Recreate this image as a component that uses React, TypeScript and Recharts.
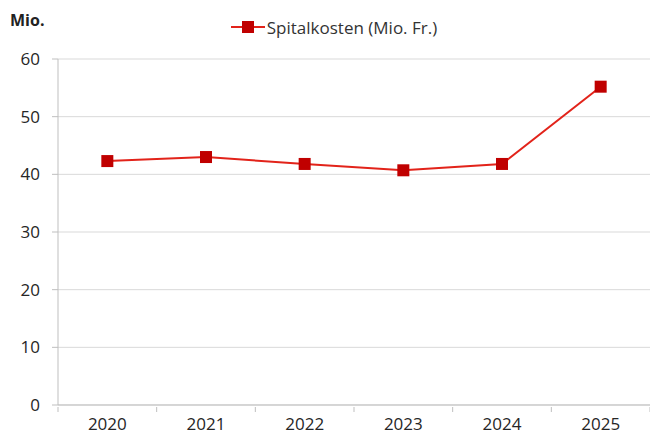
import React from 'react';
import { LineChart, Line, XAxis, YAxis, CartesianGrid, Legend } from 'recharts';

const years = ['2020', '2021', '2022', '2023', '2024', '2025'];
const spitalkosten = [42.3, 43.0, 41.8, 40.7, 41.8, 55.2];
const yTicks = [0, 10, 20, 30, 40, 50, 60];

const data = years.map((y, i) => ({ year: y, value: spitalkosten[i] }));

const FONT = '"Open Sans", "Noto Sans", sans-serif';
const LINE_COLOR = '#e2231a';
const MARKER_COLOR = '#c00000';
const AXIS_COLOR = '#bfbfbf';
const TEXT_COLOR = '#262626';

const Square = (props: any) => {
  const { cx, cy } = props;
  if (cx == null || cy == null) return null;
  return <rect x={cx - 6} y={cy - 6} width={12} height={12} fill={MARKER_COLOR} />;
};

const XTick = (props: any) => {
  const { x, y, payload, index, width, visibleTicksCount } = props;
  const bw = width / (visibleTicksCount || years.length);
  const top = y;
  return (
    <g>
      <line x1={x - bw / 2} x2={x - bw / 2} y1={top} y2={top + 5} stroke={AXIS_COLOR} />
      {index === years.length - 1 && (
        <line x1={x + bw / 2} x2={x + bw / 2} y1={top} y2={top + 5} stroke={AXIS_COLOR} />
      )}
      <text x={x} y={y + 23} textAnchor="middle" fill={TEXT_COLOR} fontSize={17} fontFamily={FONT}>
        {payload.value}
      </text>
    </g>
  );
};

const LegendContent = () => (
  <div style={{ display: 'flex', justifyContent: 'center', alignItems: 'center', fontFamily: FONT, fontSize: 17, color: '#333', height: 22, paddingLeft: 18 }}>
    <svg width={34} height={14} style={{ marginRight: 2 }}>
      <line x1={0} x2={34} y1={7} y2={7} stroke={LINE_COLOR} strokeWidth={2} />
      <rect x={11} y={1} width={12} height={12} fill={MARKER_COLOR} />
    </svg>
    <span>Spitalkosten (Mio. Fr.)</span>
  </div>
);

export default function App() {
  return (
    <div style={{ position: 'absolute', left: 0, top: 0, width: 650, height: 436, background: '#fff' }}>
      <div style={{ position: 'absolute', left: 10, top: 9, fontFamily: FONT, fontWeight: 700, fontSize: 16, color: '#222' }}>Mio.</div>
      <LineChart width={650} height={436} data={data} margin={{ top: 37, right: 0, bottom: 0, left: 0 }}>
        <CartesianGrid horizontal vertical={false} stroke="#d9d9d9" />
        <Legend
          verticalAlign="top"
          content={<LegendContent />}
          wrapperStyle={{ position: 'absolute', top: 16, left: 0, width: 650, height: 22 }}
        />
        <XAxis
          dataKey="year"
          scale="band"
          height={31}
          axisLine={{ stroke: AXIS_COLOR }}
          tickLine={false}
          tick={<XTick />}
          tickSize={0}
          interval={0}
        />
        <YAxis
          domain={[0, 60]}
          ticks={yTicks}
          width={58}
          axisLine={{ stroke: AXIS_COLOR }}
          tickLine={{ stroke: AXIS_COLOR }}
          tickSize={6}
          tickMargin={12}
          tick={{ fill: TEXT_COLOR, fontSize: 17, fontFamily: FONT }}
        />
        <Line
          type="linear"
          dataKey="value"
          stroke={LINE_COLOR}
          strokeWidth={2}
          dot={<Square />}
          activeDot={false}
          isAnimationActive={false}
          legendType="none"
        />
      </LineChart>
    </div>
  );
}
